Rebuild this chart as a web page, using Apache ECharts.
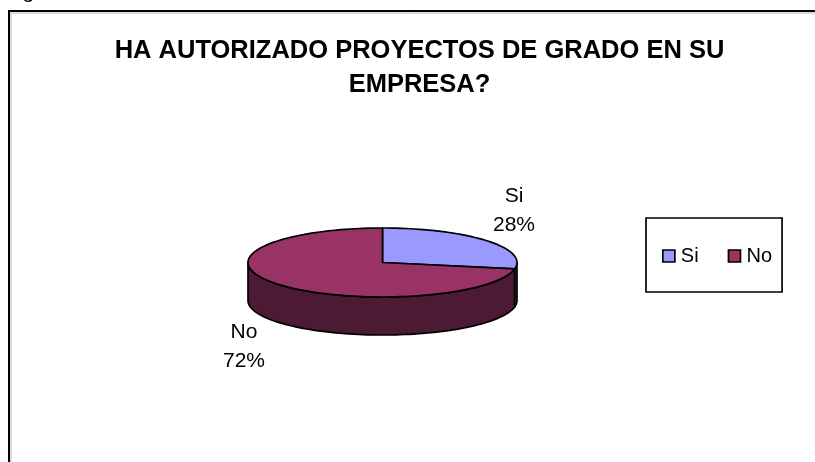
<!DOCTYPE html>
<html><head><meta charset="utf-8">
<style>html,body{margin:0;padding:0;background:#fff}#c{width:815px;height:462px}</style>
<script src="https://cdn.jsdelivr.net/npm/echarts@6/dist/echarts.min.js"></script>
</head><body><div id="c"></div>
<script>
const titleLines = ['HA AUTORIZADO PROYECTOS DE GRADO EN SU', 'EMPRESA?'];
const categories = ['Si', 'No'];
const values = [28, 72];
const topColors = ['#9999ff', '#993366'];
const sideColors = ['#4c4c80', '#4c1a33'];
const labelCentres = [[514, 211], [244, 347]];
const font = '"Liberation Sans", Arial, sans-serif';

const geo = {cx: 382.5, cy: 262.5, rx: 134.5, ry: 34.5, depth: 38};
const total = values.reduce((a, b) => a + b, 0);
function pt(deg, dy) {
  const r = deg * Math.PI / 180;
  return [geo.cx + geo.rx * Math.sin(r), geo.cy - geo.ry * Math.cos(r) + (dy || 0)];
}
function arc(a, b, dy) {
  const out = [], n = Math.max(2, Math.ceil(Math.abs(b - a) / 2));
  for (let i = 0; i <= n; i++) out.push(pt(a + (b - a) * i / n, dy));
  return out;
}
function renderSlice(idx) {
  return function () {
    const before = values.slice(0, idx).reduce((a, b) => a + b, 0);
    const start = before / total * 360, end = (before + values[idx]) / total * 360;
    const children = [];
    const wa = Math.max(start, 90), wb = Math.min(end, 270);
    const line = {stroke: '#000', lineWidth: 1.7, lineJoin: 'round'};
    if (wb > wa) {
      const top = arc(wa, wb, 0), bot = arc(wa, wb, geo.depth).reverse();
      children.push({type: 'polygon', shape: {points: top.concat(bot)},
        style: Object.assign({fill: sideColors[idx]}, line)});
    }
    children.push({type: 'polygon', shape: {points: [[geo.cx, geo.cy]].concat(arc(start, end, 0))},
      style: Object.assign({fill: topColors[idx]}, line)});
    children.push({type: 'text', style: {
      x: labelCentres[idx][0], y: labelCentres[idx][1],
      text: categories[idx] + '\n' + Math.round(values[idx] / total * 100) + '%',
      font: '21px ' + font, lineHeight: 29, fill: '#000', align: 'center', verticalAlign: 'middle'}});
    return {type: 'group', children};
  };
}

const chart = echarts.init(document.getElementById('c'), null, {renderer: 'canvas'});
chart.setOption({
  animation: false,
  backgroundColor: '#fff',
  title: {
    text: titleLines.join('\n'), left: 414.5, top: 28.5, textAlign: 'center',
    textStyle: {fontFamily: font, fontWeight: 'bold', fontSize: 25.5, lineHeight: 34.5, color: '#000'}
  },
  legend: {
    data: categories.map((n, i) => ({name: n, icon: 'rect',
      itemStyle: {color: topColors[i], borderColor: '#000', borderWidth: 1.7}})),
    orient: 'horizontal', left: 646, top: 218,
    padding: [28, 10, 26, 16], itemGap: 29,
    itemWidth: 12, itemHeight: 12, selectedMode: false,
    borderColor: '#000', borderWidth: 1.7,
    textStyle: {fontFamily: font, fontSize: 20, color: '#000', padding: [0, 0, 0, 1]}
  },
  graphic: [
    {type: 'rect', silent: true, shape: {x: 11, y: 13, width: 900, height: 600},
      style: {fill: 'none', stroke: '#b4b4b4', lineWidth: 1}},
    {type: 'rect', silent: true, shape: {x: 9, y: 11, width: 900, height: 600},
      style: {fill: 'none', stroke: '#000', lineWidth: 2}},
    {type: 'text', silent: true, style: {x: 5, y: -18, text: 'Figura 4', font: '21px ' + font, fill: '#000'}}
  ],
  series: [0, 1].map(i => ({
    type: 'custom', name: categories[i], coordinateSystem: 'none',
    data: [values[i]], renderItem: renderSlice(i), silent: true,
    itemStyle: {color: topColors[i]}
  }))
});
</script></body></html>
